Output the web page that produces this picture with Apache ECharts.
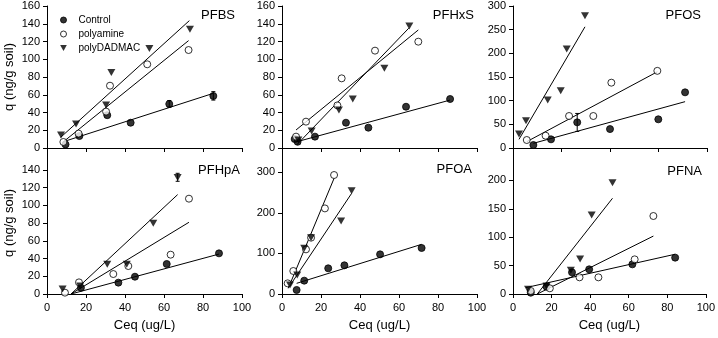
<!DOCTYPE html>
<html>
<head>
<meta charset="utf-8">
<script src="https://cdn.jsdelivr.net/npm/echarts@6/dist/echarts.min.js"></script>
<style>
  html, body { margin: 0; padding: 0; background: #fff; }
  #chart { width: 718px; height: 338px; }
</style>
</head>
<body>
<div id="chart"></div>
<script>
// panel names
const panelNames = ['PFBS', 'PFHxS', 'PFOS', 'PFHpA', 'PFOA', 'PFNA'];
const seriesNames = ['Control', 'polyamine', 'polyDADMAC'];

// PFBS
const pfbsControl = [[9.5, 4], [16.6, 13.5], [30.9, 37], [42.9, 28.5], [62.7, 49.6], [85.3, 58.6]];
const pfbsPolyamine = [[8.4, 6.8], [16.2, 16.2], [30.3, 41], [32.3, 70.2], [51.4, 94.3], [72.6, 110.4]];
const pfbsDadmac = [[7.2, 14.6], [14.9, 27], [30.3, 48.5], [33, 85], [52.5, 112], [73.3, 133.7]];
const pfbsFits = [[[8.4, 7.1], [85.3, 61.6]], [[8.4, 7], [72.6, 121]], [[7, 12], [73, 143.5]]];
const pfbsErr = [[85.3, 54, 63.5], [62.7, 46, 53.5]];

// PFHxS
const pfhxsControl = [[6.5, 10.1], [8, 7], [16.9, 12.8], [32.8, 28.5], [44.3, 22.9], [63.6, 46.5], [86.2, 55.2]];
const pfhxsPolyamine = [[7.2, 12.8], [12.3, 29.7], [28.4, 48], [30.6, 78.5], [47.7, 109.7], [69.9, 119.8]];
const pfhxsDadmac = [[8.4, 9], [15.2, 19.2], [29.2, 42.8], [36.3, 55.2], [52.5, 89.8], [65.3, 137.5]];
const pfhxsFits = [[[7.5, 7], [86.2, 54]], [[7.2, 20.3], [69.9, 133]], [[7.5, 3.4], [65, 135]]];
const pfhxsErr = [];

// PFOS
const pfosControl = [[10.5, 6.3], [19.6, 18.3], [33.1, 54.2], [50, 40], [74.9, 60.6], [88.7, 117.6]];
const pfosPolyamine = [[7.1, 16.9], [16.8, 26], [28.9, 67.6], [41.4, 67.6], [50.7, 138], [74.4, 163]];
const pfosDadmac = [[3.1, 29.6], [6.7, 57.7], [17.9, 101.4], [24.6, 121], [27.7, 209], [37.1, 279.5]];
const pfosFits = [[[10.5, 9.9], [88.7, 97.9]], [[7.1, 13.4], [74.4, 161]], [[3.1, 18.3], [37.1, 256]]];
const pfosErr = [[33.1, 35, 73]];

// PFHpA
const pfhpaControl = [[17.4, 7.1], [36.6, 12.8], [45.1, 19.5], [61.4, 33.8], [88.2, 45.8]];
const pfhpaPolyamine = [[9.2, 1.5], [16.4, 13.1], [34, 22.5], [41.7, 31.5], [63.4, 44.3], [72.8, 107.4]];
const pfhpaDadmac = [[8, 5.6], [17, 9], [30.9, 33.4], [40.9, 33.4], [54.5, 79.6], [67, 131.4]];
const pfhpaFits = [[[12.3, 0], [88.2, 45]], [[12.3, 0], [72.8, 80.8]], [[12.3, 0], [67, 112]]];
const pfhpaErr = [[67, 127, 136]];

// PFOA
const pfoaControl = [[7.5, 9.9], [11.4, 32.9], [23.7, 63.3], [32, 70.7], [50.3, 97.7], [71.6, 113.4]];
const pfoaPolyamine = [[2.9, 26.3], [5.8, 56.7], [12.3, 110], [14.9, 138.8], [22, 211], [26.7, 293.3]];
const pfoaDadmac = [[4.1, 22.2], [7.8, 46.8], [11.4, 112.6], [14.9, 138.8], [30.3, 180], [35.7, 254.6]];
const pfoaFits = [[[7.5, 26.3], [71.6, 122.4]], [[3.2, 14], [26.7, 285]], [[4.6, 24.6], [35.7, 248]]];
const pfoaErr = [];

// PFNA
const pfnaControl = [[9.2, 2.3], [17.4, 12.9], [30.6, 38.1], [39.5, 43.4], [61.9, 52.2], [84.1, 64]];
const pfnaPolyamine = [[9.2, 5.3], [19.1, 10], [34.5, 29.3], [44.3, 29.3], [63.1, 61], [72.8, 137.3]];
const pfnaDadmac = [[7.8, 8.2], [17.4, 14], [30, 42], [34.8, 61.6], [40.8, 139], [51.6, 196]];
const pfnaFits = [[[6.7, 11.2], [84.1, 70]], [[12.6, 0], [72.8, 102]], [[12.6, 0], [51.6, 168.5]]];
const pfnaErr = [];

// axis settings per panel
const yMax = [160, 160, 300, 160, 350, 250];
const yStep = [20, 20, 50, 20, 100, 50];
const xStep = [20, 20, 25, 20, 20, 20];

const panelData = [
  [pfbsControl, pfbsPolyamine, pfbsDadmac, pfbsFits, pfbsErr],
  [pfhxsControl, pfhxsPolyamine, pfhxsDadmac, pfhxsFits, pfhxsErr],
  [pfosControl, pfosPolyamine, pfosDadmac, pfosFits, pfosErr],
  [pfhpaControl, pfhpaPolyamine, pfhpaDadmac, pfhpaFits, pfhpaErr],
  [pfoaControl, pfoaPolyamine, pfoaDadmac, pfoaFits, pfoaErr],
  [pfnaControl, pfnaPolyamine, pfnaDadmac, pfnaFits, pfnaErr]
];

const FONT = '"Liberation Sans", Arial, sans-serif';
const colLeft = [47, 282, 513];
const rowTop = [6, 152];
// right edge and top of each panel's name
const titleRight = [235, 474, 701, 240, 472, 702];
const titleTop = [9, 9, 9, 164, 163, 165];

const TRI_DOWN = 'path://M0,0 L10,0 L5,9 Z';

const grids = [], xAxes = [], yAxes = [], series = [], titles = [];
const symbolStyles = [
  { symbol: 'circle', symbolSize: 7, itemStyle: { color: '#000', borderColor: '#000', borderWidth: 1 } },
  { symbol: 'circle', symbolSize: 7, itemStyle: { color: '#fff', borderColor: '#000', borderWidth: 1 } },
  { symbol: TRI_DOWN, symbolSize: [8, 7], itemStyle: { color: '#000', borderWidth: 0 } }
];

for (let i = 0; i < 6; i++) {
  const row = Math.floor(i / 3), col = i % 3;
  const bottomRow = row === 1;
  grids.push({ left: colLeft[col], top: rowTop[row], width: col === 2 ? 194 : 195, height: 142 });
  xAxes.push({
    gridIndex: i, type: 'value', min: 0, max: 100, interval: xStep[i],
    axisLine: { lineStyle: { color: '#000', width: 1 } },
    axisTick: { length: 4, lineStyle: { color: '#000' } },
    splitLine: { show: false },
    axisLabel: { show: bottomRow, color: '#000', fontSize: 11, fontFamily: FONT, margin: 8 },
    name: bottomRow ? 'Ceq (ug/L)' : '', nameLocation: 'middle', nameGap: 25,
    nameTextStyle: { color: '#000', fontSize: 13, fontFamily: FONT }
  });
  yAxes.push({
    gridIndex: i, type: 'value', min: 0, max: yMax[i], interval: yStep[i],
    axisLine: { show: true, lineStyle: { color: '#000', width: 1 } },
    axisTick: { show: true, length: 4, lineStyle: { color: '#000' } },
    splitLine: { show: false },
    axisLabel: { color: '#000', fontSize: 11, fontFamily: FONT, margin: 7, showMaxLabel: !bottomRow },
    name: col === 0 ? 'q (ng/g soil)' : '', nameLocation: 'middle', nameGap: 31,
    nameTextStyle: { color: '#000', fontSize: 13, fontFamily: FONT }
  });
  titles.push({
    text: panelNames[i], right: 718 - titleRight[i], top: titleTop[i], padding: 0,
    textStyle: { color: '#000', fontSize: 13, fontWeight: 'normal', fontFamily: FONT }
  });

  const d = panelData[i];
  for (let s = 0; s < 3; s++) {
    series.push({
      type: 'line', name: 'fit', xAxisIndex: i, yAxisIndex: i, data: d[3][s],
      showSymbol: false, symbol: 'none', silent: true, z: 1,
      lineStyle: { color: '#000', width: 1 }
    });
  }
  if (d[4].length) {
    series.push({
      type: 'custom', name: 'err', xAxisIndex: i, yAxisIndex: i, data: d[4], z: 2, silent: true,
      renderItem: function (params, api) {
        const lo = api.coord([api.value(0), api.value(1)]);
        const hi = api.coord([api.value(0), api.value(2)]);
        const st = { stroke: '#000', lineWidth: 1 };
        return { type: 'group', children: [
          { type: 'line', shape: { x1: lo[0], y1: lo[1], x2: hi[0], y2: hi[1] }, style: st },
          { type: 'line', shape: { x1: lo[0] - 2, y1: lo[1], x2: lo[0] + 2, y2: lo[1] }, style: st },
          { type: 'line', shape: { x1: hi[0] - 2, y1: hi[1], x2: hi[0] + 2, y2: hi[1] }, style: st }
        ] };
      }
    });
  }
  for (let s = 0; s < 3; s++) {
    series.push(Object.assign({
      type: 'scatter', name: seriesNames[s], xAxisIndex: i, yAxisIndex: i, data: d[s], z: 3
    }, symbolStyles[s]));
  }
}

const chart = echarts.init(document.getElementById('chart'), null, { renderer: 'canvas' });
chart.setOption({
  animation: false,
  backgroundColor: '#fff',
  title: titles,
  legend: {
    data: [
      { name: 'Control', icon: 'circle' },
      { name: 'polyamine', icon: 'circle' },
      { name: 'polyDADMAC', icon: TRI_DOWN }
    ],
    orient: 'vertical', left: 60, top: 15, padding: 0,
    itemWidth: 12, itemHeight: 6, itemGap: 4,
    itemStyle: { borderWidth: 1 },
    textStyle: { color: '#000', fontSize: 10, lineHeight: 7, fontFamily: FONT, padding: [0, 0, 0, 4] }
  },
  grid: grids,
  xAxis: xAxes,
  yAxis: yAxes,
  series: series
});
</script>
</body>
</html>
